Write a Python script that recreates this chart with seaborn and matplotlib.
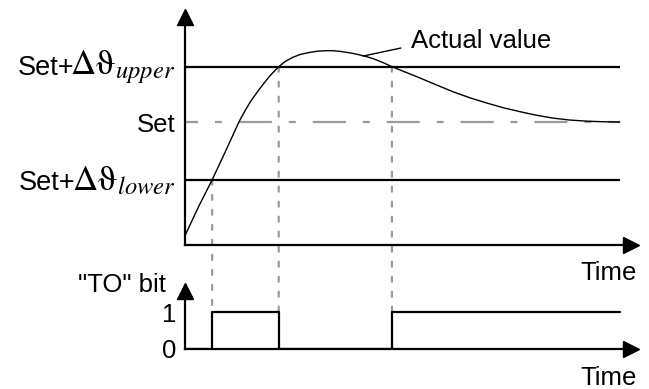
import matplotlib
matplotlib.use("Agg")
import matplotlib.pyplot as plt
import seaborn as sns
from matplotlib.patches import ConnectionPatch
from matplotlib.offsetbox import TextArea, HPacker, AnnotationBbox

sns.set_theme(style="white")
plt.rcParams["font.family"] = ["Liberation Sans", "DejaVu Sans"]
plt.rcParams["mathtext.fontset"] = "stix"
plt.rcParams["lines.scale_dashes"] = False

# Actual value of the controlled temperature over time
t_curve = [0.00, 0.30, 0.60, 0.90, 1.19, 1.32, 1.45, 1.60, 1.74, 1.90, 2.07,
           2.22, 2.38, 2.55, 2.75, 2.93, 3.11, 3.27, 3.44, 3.71, 3.95, 4.15,
           4.37, 4.57, 4.88, 5.19, 5.55, 5.92, 6.30, 6.67, 7.03, 7.40, 7.75,
           8.12, 8.50, 8.87, 9.25, 9.60]
v_curve = [3.8, 15.6, 26.5, 38.3, 50.0, 54.4, 58.4, 62.3, 65.7, 69.3, 72.5,
           74.7, 76.3, 77.5, 78.3, 78.8, 79.0, 79.0, 78.7, 77.9, 76.9, 75.8,
           74.2, 72.5, 70.2, 67.9, 65.1, 62.3, 59.8, 57.7, 55.8, 54.2, 52.8,
           51.6, 50.8, 50.35, 50.1, 50.0]

# Set point and tolerance band
set_point = 50.0
band_upper = 72.5
band_lower = 26.5
band_levels = [band_upper, band_lower]
band_names = ["upper", "lower"]

# "TO" bit: switching instants and state after each instant
t_switch = [0.00, 0.60, 2.07, 4.57, 9.60]
to_bit = [0, 1, 0, 1, 1]
bit_ticks = [0, 1]
bit_labels = ["0", "1"]
t_end = 9.60

BLACK = "black"
GREY = "#9a9a9a"
FS = 18.5

fig = plt.figure(figsize=(6.49, 3.89), dpi=100)
ax1 = fig.add_axes([185 / 649, 1 - 245 / 389, 446 / 649, 228 / 389])
ax2 = fig.add_axes([185 / 649, 1 - 349 / 389, 446 / 649, 58 / 389])

for ax in (ax1, ax2):
    ax.patch.set_visible(False)
    ax.set_xlim(0, 9.85)
    for side in ("top", "right"):
        ax.spines[side].set_visible(False)
    for side in ("left", "bottom"):
        ax.spines[side].set_color(BLACK)
        ax.spines[side].set_linewidth(1.6)
    ax.set_xticks([])
    # axis arrow heads
    ax.plot(1, 0, ">", color=BLACK, ms=11, transform=ax.get_yaxis_transform(),
            clip_on=False)
    ax.plot(0, 1, "^", color=BLACK, ms=11, transform=ax.get_xaxis_transform(),
            clip_on=False)

ax1.set_ylim(0, 92.7)
ax2.set_ylim(0, 1.57)

# tolerance band and set point
ax1.hlines(band_levels, 0, t_end, color=BLACK, lw=1.6)
ax1.hlines(set_point, 0, t_end, color=GREY, lw=1.6,
           linestyle=(14.4, (23.8, 12.2, 5.0, 12.2)))

sns.lineplot(x=t_curve, y=v_curve, ax=ax1, color=BLACK, lw=1.0,
             sort=False, estimator=None)

ax1.set_yticks([set_point])
ax1.set_yticklabels(["Set"])
ax1.tick_params(axis="y", length=0, pad=7, labelsize=FS, colors=BLACK)

# band labels: sans "Set+" followed by a larger serif Δϑ with subscript
for level, name in zip(band_levels, band_names):
    plain = TextArea("Set+", textprops=dict(fontsize=19.5, color=BLACK))
    math = TextArea(r"$\Delta\mathrm{\vartheta}_{%s}$" % name,
                    textprops=dict(fontsize=FS * 1.36, color=BLACK))
    box = HPacker(children=[plain, math], align="baseline", pad=0, sep=-3)
    ab = AnnotationBbox(box, (0, level), xycoords=ax1.get_yaxis_transform(),
                        xybox=(-7, 0), boxcoords="offset points",
                        box_alignment=(1, 0.52), frameon=False,
                        annotation_clip=False)
    ax1.add_artist(ab)

ax1.annotate("Actual value", xy=(3.93, 76.8), xytext=(4.99, 82.9),
             fontsize=FS, color=BLACK, ha="left", va="center",
             arrowprops=dict(arrowstyle="-", color=BLACK, lw=1.0,
                             shrinkA=5, shrinkB=0, relpos=(0, 0.3)))
ax1.text(9.98, -11.4, "Time", ha="right", va="center", fontsize=FS,
         color=BLACK)

# "TO" bit signal
sns.lineplot(x=t_switch, y=to_bit, ax=ax2, color=BLACK, lw=1.6,
             drawstyle="steps-post", estimator=None, sort=False)
ax2.set_yticks(bit_ticks)
ax2.set_yticklabels(bit_labels)
ax2.tick_params(axis="y", direction="inout", length=7, width=1.6, pad=3,
                labelsize=FS, colors=BLACK)
ax2.text(-0.42, 1.73, '"TO" bit', ha="right", va="center", fontsize=FS,
         color=BLACK)
ax2.text(9.98, -0.78, "Time", ha="right", va="center", fontsize=FS,
         color=BLACK)

# dashed guides from band crossings down to the switching edges
for t, level in zip(t_switch[1:4], [band_lower, band_upper, band_upper]):
    con = ConnectionPatch(xyA=(t, level), coordsA=ax1.transData,
                          xyB=(t, 1), coordsB=ax2.transData,
                          color=GREY, lw=1.6, linestyle=(0, (3.6, 7.2)),
                          zorder=-1)
    fig.add_artist(con)

fig.savefig("out.png", dpi=100, facecolor="white")
